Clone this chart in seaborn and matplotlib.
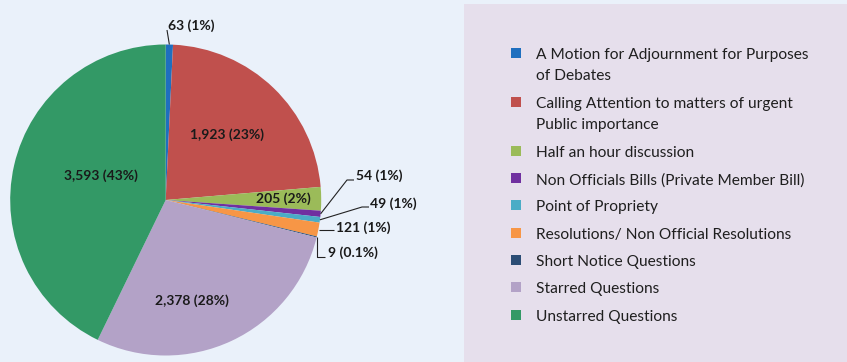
import matplotlib
matplotlib.use("Agg")
import matplotlib.pyplot as plt
import seaborn as sns
import numpy as np
from matplotlib.patches import Rectangle

# Business taken up, by type of proceeding
categories = [
    "A Motion for Adjournment for Purposes\nof Debates",
    "Calling Attention to matters of urgent\nPublic importance",
    "Half an hour discussion",
    "Non Officials Bills (Private Member Bill)",
    "Point of Propriety",
    "Resolutions/ Non Official Resolutions",
    "Short Notice Questions",
    "Starred Questions",
    "Unstarred Questions",
]
values = [63, 1923, 205, 54, 49, 121, 9, 2378, 3593]
colors = ["#1F6FBF", "#C0504D", "#9BBB59", "#7030A0", "#4BACC6",
          "#F79646", "#2C4D75", "#B3A2C7", "#339966"]

total = sum(values)


def value_label(v):
    pct = v / total * 100
    pct_txt = f"{pct:.1f}%" if pct < 0.5 else f"{pct:.0f}%"
    return f"{v:,} ({pct_txt})"


sns.set_theme(style="white")
plt.rcParams["font.family"] = ["Lato", "DejaVu Sans"]

W, H = 847, 362
fig = plt.figure(figsize=(W / 100, H / 100), dpi=100, facecolor="#EAF1FA")
ax = fig.add_axes([0, 0, 1, 1])
ax.set_facecolor("#EAF1FA")

# pie geometry in pixel space (y grows downward)
cx, cy, R = 165.7, 200.0, 155.5
wedges, _ = ax.pie(values, colors=colors, startangle=-90, counterclock=True,
                   radius=R, center=(cx, cy),
                   wedgeprops=dict(linewidth=0), frame=True)

ax.set_xlim(0, W)
ax.set_ylim(H, 0)
ax.set_aspect("equal")
ax.axis("off")


def rim_point(w, r=R):
    a = np.deg2rad((w.theta1 + w.theta2) / 2)
    return cx + r * np.cos(a), cy + r * np.sin(a)


label_kw = dict(fontsize=10, fontweight="bold", color="#1a1a1a")

# labels placed inside the larger slices
inside = {1: (227, 135), 2: (283, 199), 7: (192, 300.5), 8: (100.5, 176)}
for i, (x, y) in inside.items():
    ax.text(x, y, value_label(values[i]), ha="center", va="center", **label_kw)

# labels with leader lines for the thin slices
line_kw = dict(color="#222222", lw=0.8, solid_capstyle="butt")

x0, y0 = rim_point(wedges[0])
ax.plot([x0, 167], [y0, 30], **line_kw)
ax.text(167.5, 25.5, value_label(values[0]), ha="left", va="center", **label_kw)

x3, y3 = rim_point(wedges[3])
ax.plot([x3, 347, 354], [y3, 180, 180], **line_kw)
ax.text(355.5, 176, value_label(values[3]), ha="left", va="center", **label_kw)

x4, y4 = rim_point(wedges[4])
ax.plot([x4, 362, 369], [y4, 207, 207], **line_kw)
ax.text(370, 204, value_label(values[4]), ha="left", va="center", **label_kw)

x5, y5 = rim_point(wedges[5])
ax.plot([x5 + 1, 334], [230, 230], **line_kw)
ax.text(336, 227.5, value_label(values[5]), ha="left", va="center", **label_kw)

x6, y6 = rim_point(wedges[6])
ax.plot([x6, x6, 325], [y6, 256.5, 256.5], **line_kw)
ax.text(327.5, 253, value_label(values[6]), ha="left", va="center", **label_kw)

# legend panel
ax.add_patch(Rectangle((464, 4), W - 464, H - 4, facecolor="#E6DFEC",
                       edgecolor="none", zorder=0))

legend_rows = [53, 102, 151, 178, 205, 233, 260, 287, 315]
for name, col, y in zip(categories, colors, legend_rows):
    ax.add_patch(Rectangle((511, y - 5), 10, 10, facecolor=col,
                           edgecolor="none", zorder=3))
    ax.text(535.5, y - 5, name, ha="left", va="top", fontsize=11.2,
            color="#1f1f1f", linespacing=1.62)

fig.savefig("out.png", dpi=100, facecolor=fig.get_facecolor())
